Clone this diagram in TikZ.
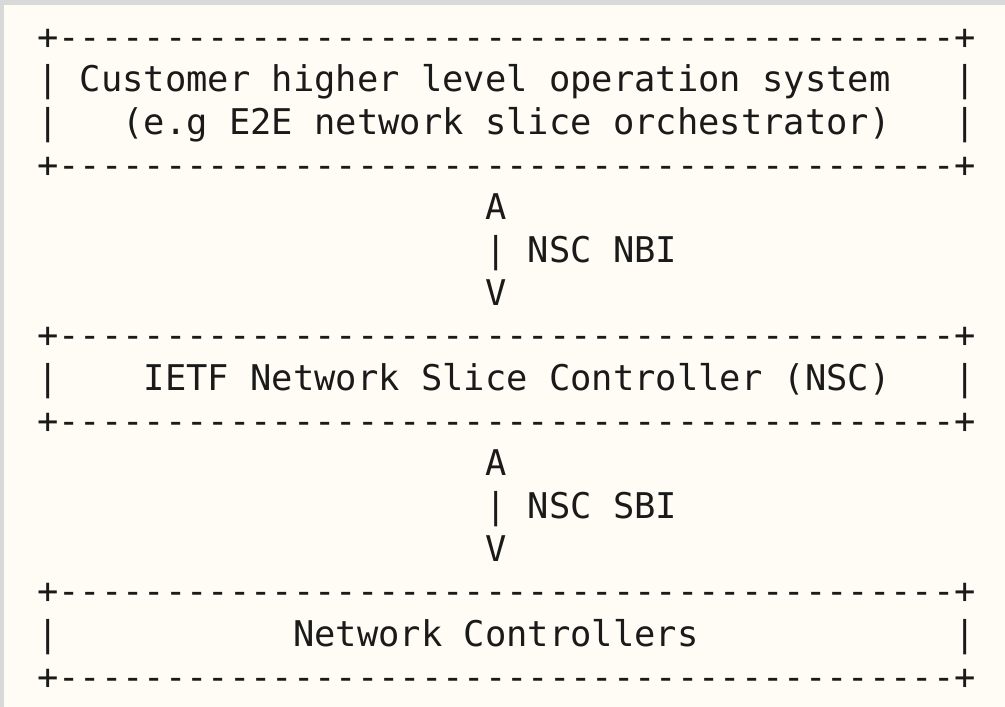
\documentclass[tikz,border=0pt]{standalone}
\usepackage{fontspec}
\newfontfamily\asciifont{DejaVu Sans Mono}
\definecolor{pagecream}{HTML}{FFFCF5}
\definecolor{framegrey}{HTML}{D9D9D9}
\definecolor{inkcol}{HTML}{1A1A1A}
% character grid: column width and line pitch (in pt), origin of column 0 / row 0
\def\cw{21.33}
\def\lp{42.67}
\def\xo{37.3}
\def\yo{49}
\tikzset{
  ascii/.style={inner sep=0pt, outer sep=0pt, anchor=base west, text=inkcol,
    font=\asciifont\fontsize{35.43}{42}\selectfont},
}
\newcommand{\gridat}[2]{({\xo+#1*\cw},{\yo+#2*\lp})}
\begin{document}
\begin{tikzpicture}[x=1pt,y=-1pt]
\useasboundingbox (0,0) rectangle (1005,707);
\fill[pagecream] (0,0) rectangle (1005,707);
\fill[framegrey] (0,0) rectangle (1005,5);
\fill[framegrey] (0,0) rectangle (4,707);

% top box: customer system
\node[ascii] (cTop) at \gridat{0}{0} {+------------------------------------------+};
\node[ascii] (cL1) at \gridat{0}{1} {|};
\node[ascii] (cT1) at \gridat{2}{1} {Customer higher level operation system};
\node[ascii] (cR1) at \gridat{43}{1} {|};
\node[ascii] (cL2) at \gridat{0}{2} {|};
\node[ascii] (cT2) at \gridat{4}{2} {(e.g E2E network slice orchestrator)};
\node[ascii] (cR2) at \gridat{43}{2} {|};
\node[ascii] (cBot) at \gridat{0}{3} {+------------------------------------------+};

% northbound interface
\node[ascii] (nbiUp) at \gridat{21}{4} {A};
\node[ascii] (nbiBar) at \gridat{21}{5} {| NSC NBI};
\node[ascii] (nbiDn) at \gridat{21}{6} {V};

% middle box: slice controller
\node[ascii] (nTop) at \gridat{0}{7} {+------------------------------------------+};
\node[ascii] (nL) at \gridat{0}{8} {|};
\node[ascii] (nT) at \gridat{5}{8} {IETF Network Slice Controller (NSC)};
\node[ascii] (nR) at \gridat{43}{8} {|};
\node[ascii] (nBot) at \gridat{0}{9} {+------------------------------------------+};

% southbound interface
\node[ascii] (sbiUp) at \gridat{21}{10} {A};
\node[ascii] (sbiBar) at \gridat{21}{11} {| NSC SBI};
\node[ascii] (sbiDn) at \gridat{21}{12} {V};

% bottom box: network controllers
\node[ascii] (ncTop) at \gridat{0}{13} {+------------------------------------------+};
\node[ascii] (ncL) at \gridat{0}{14} {|};
\node[ascii] (ncT) at \gridat{12}{14} {Network Controllers};
\node[ascii] (ncR) at \gridat{43}{14} {|};
\node[ascii] (ncBot) at \gridat{0}{15} {+------------------------------------------+};
\end{tikzpicture}
\end{document}
